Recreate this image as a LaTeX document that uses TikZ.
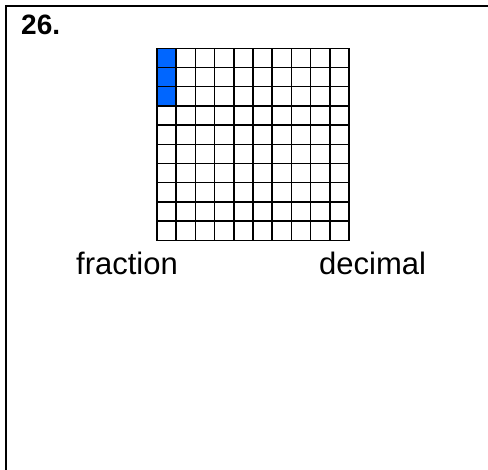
\documentclass[tikz,border=0pt]{standalone}
\usepackage{fontspec}
\setmainfont{Liberation Sans}
\usetikzlibrary{positioning}

\begin{document}
\begin{tikzpicture}[
    x=1pt, y=-1pt,
    frame/.style={line width=2.2pt, line cap=rect},
    gridline/.style={line width=1.5pt, line cap=rect},
    shadecell/.style={fill=shadeblue, draw=none, minimum size=19.2pt, inner sep=0pt},
    label/.style={font=\fontsize{31}{36}\selectfont, inner sep=0pt, anchor=base west},
    numlabel/.style={font=\fontsize{28}{32}\selectfont\bfseries, inner sep=0pt, anchor=base west}
]
  \definecolor{shadeblue}{HTML}{0066FF}
  \def\pitch{19.2}
  \def\gx{157}
  \def\gy{48.3}

  \useasboundingbox (0,0) rectangle (488,470);

  % border of the box
  \coordinate (topleft) at (6,6);
  \coordinate (topright) at (488,6);
  \coordinate (botleft) at (6,470);
  \draw[frame] (botleft) -- (topleft) -- (topright);

  \node[numlabel] (qnum) at (21,35) {26.};

  % hundred grid: shaded cells, then the lines
  \foreach \r in {0,1,2}
    \node[shadecell] (cell-\r) at ({\gx+0.5*\pitch},{\gy+(\r+0.5)*\pitch}) {};
  \foreach \i in {0,...,10} {
    \draw[gridline] ({\gx+\i*\pitch},\gy) -- ({\gx+\i*\pitch},{\gy+10*\pitch});
    \draw[gridline] (\gx,{\gy+\i*\pitch}) -- ({\gx+10*\pitch},{\gy+\i*\pitch});
  }

  \node[label] (fraction) at (76,275) {fraction};
  \node[label] (decimal) at (319,275) {decimal};
\end{tikzpicture}
\end{document}
